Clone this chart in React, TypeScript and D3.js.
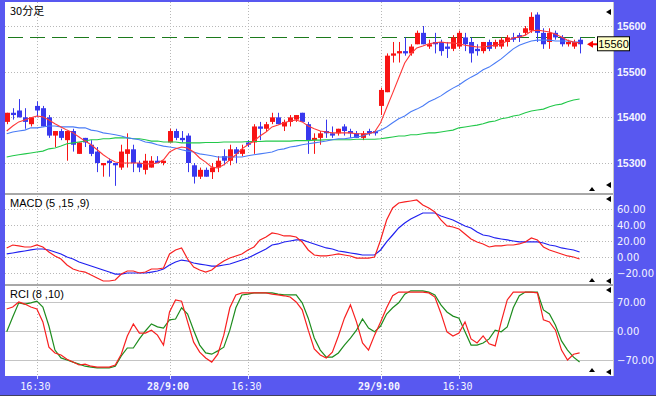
import React, { useEffect, useRef } from "react";
import * as d3 from "d3";

// 30-minute bars, oldest first
const open = [15390, 15410, 15415, 15400, 15385, 15425, 15420, 15400, 15360, 15370,
  15350, 15370, 15320, 15355, 15340, 15325, 15295, 15305, 15300, 15290,
  15320, 15330, 15300, 15285, 15290, 15305, 15300, 15345, 15370, 15355,
  15360, 15295, 15270, 15285, 15280, 15290, 15315, 15305, 15330, 15320,
  15345, 15345, 15380, 15375, 15390, 15400, 15380, 15390, 15395, 15410,
  15385, 15350, 15355, 15370, 15365, 15365, 15380, 15370, 15365, 15355,
  15370, 15370, 15425, 15455, 15535, 15540, 15545, 15540, 15560, 15585,
  15555, 15565, 15565, 15555, 15550, 15555, 15575, 15565, 15550, 15545,
  15565, 15555, 15555, 15565, 15575, 15580, 15585, 15590, 15625, 15585,
  15565, 15585, 15575, 15560, 15555, 15570];
const high = [15410, 15420, 15440, 15420, 15400, 15435, 15425, 15405, 15370, 15375,
  15370, 15375, 15345, 15355, 15350, 15335, 15300, 15310, 15300, 15340,
  15365, 15340, 15305, 15320, 15315, 15315, 15305, 15375, 15375, 15370,
  15365, 15300, 15290, 15290, 15300, 15315, 15330, 15340, 15335, 15340,
  15350, 15385, 15390, 15390, 15410, 15410, 15395, 15405, 15405, 15410,
  15390, 15365, 15370, 15395, 15380, 15375, 15385, 15375, 15370, 15370,
  15375, 15370, 15465, 15540, 15565, 15565, 15575, 15560, 15590, 15600,
  15570, 15585, 15570, 15565, 15580, 15590, 15585, 15575, 15560, 15565,
  15570, 15570, 15575, 15580, 15585, 15585, 15600, 15630, 15630, 15595,
  15595, 15590, 15580, 15570, 15570, 15575];
const low = [15385, 15395, 15400, 15375, 15380, 15400, 15380, 15355, 15335, 15350,
  15305, 15325, 15320, 15335, 15315, 15280, 15270, 15270, 15250, 15285,
  15290, 15280, 15280, 15275, 15290, 15300, 15295, 15345, 15350, 15345,
  15280, 15255, 15265, 15270, 15265, 15280, 15295, 15295, 15300, 15315,
  15335, 15320, 15350, 15370, 15385, 15385, 15370, 15380, 15390, 15390,
  15320, 15320, 15340, 15355, 15355, 15360, 15360, 15355, 15355, 15350,
  15360, 15360, 15405, 15455, 15520, 15520, 15535, 15535, 15560, 15560,
  15550, 15540, 15535, 15530, 15545, 15550, 15545, 15520, 15535, 15540,
  15545, 15550, 15550, 15555, 15565, 15565, 15580, 15585, 15565, 15550,
  15550, 15570, 15555, 15555, 15550, 15540];
const close = [15410, 15405, 15400, 15390, 15400, 15415, 15380, 15360, 15370, 15355,
  15370, 15340, 15345, 15345, 15320, 15300, 15300, 15300, 15295, 15325,
  15330, 15300, 15290, 15305, 15305, 15300, 15305, 15370, 15355, 15350,
  15300, 15270, 15285, 15270, 15290, 15305, 15305, 15330, 15320, 15330,
  15340, 15380, 15375, 15385, 15400, 15385, 15390, 15400, 15405, 15390,
  15350, 15355, 15365, 15365, 15360, 15375, 15370, 15365, 15355, 15365,
  15365, 15365, 15460, 15535, 15540, 15545, 15540, 15555, 15585, 15560,
  15560, 15560, 15545, 15550, 15575, 15585, 15560, 15540, 15545, 15565,
  15550, 15565, 15570, 15575, 15570, 15575, 15595, 15620, 15585, 15560,
  15585, 15575, 15560, 15565, 15565, 15560];

// moving averages (short / mid / long)
const maShort = [15370, 15381, 15390, 15394, 15399, 15403, 15401, 15394, 15386, 15379,
  15372, 15366, 15357, 15348, 15340, 15329, 15318, 15309, 15302, 15300,
  15300, 15300, 15300, 15298, 15298, 15300, 15307, 15324, 15331, 15335,
  15333, 15324, 15311, 15302, 15291, 15289, 15296, 15307, 15318, 15331,
  15340, 15348, 15359, 15368, 15379, 15383, 15388, 15392, 15394, 15390,
  15381, 15375, 15370, 15368, 15366, 15366, 15366, 15366, 15364, 15364,
  15364, 15368, 15388, 15421, 15453, 15486, 15519, 15539, 15552, 15556,
  15561, 15563, 15565, 15563, 15563, 15561, 15558, 15556, 15554, 15554,
  15556, 15558, 15561, 15567, 15574, 15576, 15580, 15589, 15591, 15589,
  15587, 15582, 15576, 15569, 15565, 15563];
const maMid = [15364, 15368, 15370, 15372, 15377, 15377, 15379, 15381, 15381, 15379,
  15379, 15379, 15377, 15377, 15372, 15370, 15366, 15364, 15362, 15359,
  15355, 15353, 15351, 15346, 15344, 15340, 15337, 15335, 15333, 15329,
  15326, 15324, 15320, 15318, 15316, 15313, 15313, 15313, 15313, 15313,
  15316, 15318, 15320, 15322, 15324, 15329, 15331, 15335, 15337, 15340,
  15342, 15344, 15346, 15348, 15351, 15353, 15353, 15355, 15357, 15359,
  15364, 15368, 15372, 15379, 15388, 15397, 15403, 15412, 15418, 15425,
  15434, 15440, 15447, 15456, 15464, 15471, 15480, 15488, 15495, 15504,
  15510, 15519, 15528, 15539, 15550, 15558, 15563, 15567, 15569, 15569,
  15569, 15567, 15567, 15567, 15565, 15565];
const maLong = [15313, 15316, 15318, 15320, 15322, 15324, 15326, 15331, 15333, 15337,
  15342, 15344, 15346, 15348, 15351, 15351, 15353, 15353, 15355, 15355,
  15355, 15353, 15353, 15351, 15348, 15348, 15346, 15346, 15346, 15344,
  15344, 15344, 15344, 15345, 15345, 15345, 15346, 15346, 15346, 15346,
  15347, 15347, 15347, 15348, 15348, 15348, 15348, 15348, 15349, 15349,
  15349, 15350, 15350, 15351, 15351, 15351, 15351, 15351, 15352, 15352,
  15352, 15352, 15353, 15355, 15357, 15359, 15359, 15362, 15362, 15364,
  15366, 15366, 15368, 15370, 15372, 15377, 15379, 15381, 15383, 15386,
  15390, 15392, 15397, 15399, 15403, 15405, 15410, 15414, 15416, 15418,
  15423, 15427, 15429, 15434, 15438, 15440];

// MACD (5,15,9)
const macdLine = [11.3, 15, 13.8, 12.5, 12.5, 15, 12.5, 6.3, 1.3, -2.5,
  -10, -15, -17.5, -18.8, -22.5, -26.3, -30, -30, -28.8, -21.3,
  -17.5, -17.5, -20, -18.8, -15, -15, -13.8, 3.8, 8.8, 11.3,
  -2.5, -12.5, -16.3, -18.8, -16.3, -10, -5, -1.3, 1.3, 3.8,
  8.8, 12.5, 21.3, 25, 30, 28.8, 26.3, 26.3, 25, 18.8,
  8.8, 2.5, 1.3, 1.3, 2.5, 3.8, 2.5, 1.3, -1.3, -1.3,
  -1.3, 0, 21.3, 46.3, 61.3, 67.5, 68.8, 70, 71.3, 65,
  61.3, 56.3, 46.3, 38.8, 37.5, 35, 28.8, 22.5, 18.8, 16.3,
  12.5, 13.8, 13.8, 15, 15, 16.3, 18.8, 23.8, 21.3, 12.5,
  8.8, 6.3, 3.8, 1.3, 0, -2.5];
const macdSignal = [3.8, 5, 6.3, 7.5, 8.8, 10, 10, 8.8, 6.3, 3.8,
  0, -2.5, -6.3, -8.8, -11.3, -13.8, -16.3, -18.8, -21.3, -21.3,
  -20, -20, -20, -20, -18.8, -17.5, -15, -10, -6.3, -3.8,
  -5, -7.5, -8.8, -10, -11.3, -11.3, -10, -8.8, -6.3, -3.8,
  -1.3, 2.5, 6.3, 10, 15, 16.3, 18.8, 20, 21.3, 21.3,
  18.8, 16.3, 13.8, 11.3, 10, 7.5, 6.3, 5, 3.8, 2.5,
  2.5, 2.5, 8.8, 18.8, 27.5, 36.3, 42.5, 47.5, 51.3, 55,
  55, 55, 51.3, 48.8, 46.3, 42.5, 38.8, 36.3, 31.3, 27.5,
  26.3, 23.8, 22.5, 21.3, 20, 18.8, 18.8, 18.8, 18.8, 17.5,
  15, 13.8, 11.3, 10, 8.8, 6.3];

// RCI (8,10)
const rciShort = [53, 58, 70, 65, 58, 53, 22, -39, -53, -58,
  -68, -75, -82, -80, -85, -87, -87, -87, -82, -56,
  -12, 17, -5, -5, 2, -10, -34, 46, 75, 72,
  22, -27, -51, -65, -75, -56, -10, 56, 87, 92,
  92, 92, 92, 92, 89, 87, 85, 82, 70, 51,
  2, -43, -58, -65, -51, -12, 31, 63, 22, -29,
  -46, -10, 22, 56, 85, 94, 94, 94, 94, 94,
  92, 82, 43, -2, -12, -5, 22, -19, -29, -12,
  -31, -36, 22, 75, 94, 94, 94, 94, 92, 27,
  22, 2, -46, -70, -56, -53];
const rciLong = [-2, 34, 68, 65, 68, 72, 58, 12, -46, -65,
  -70, -75, -80, -85, -87, -89, -89, -89, -85, -60,
  -41, -41, -19, 0, 17, 10, 7, 27, 29, 56,
  41, 2, -34, -53, -56, -48, -39, 2, 56, 87,
  89, 92, 92, 92, 92, 89, 87, 87, 87, 68,
  31, -17, -46, -63, -63, -53, -34, -17, 2, 29,
  7, -2, 12, 41, 56, 68, 89, 97, 97, 97,
  94, 87, 63, 46, 36, 31, -2, -34, -34, -29,
  -19, 2, -2, 10, 56, 85, 94, 94, 94, 51,
  41, 14, -24, -46, -63, -75];

const timeTicks = [5, 27, 40, 62, 75];
const timeLabels = ["16:30", "28/9:00", "16:30", "29/9:00", "16:30"];
const priceTicks = [15300, 15400, 15500, 15600];
const macdTicks = [-20, 0, 20, 40, 60];
const rciTicks = [-70, 0, 70];
const refPrice = 15575;
const lastPrice = 15560;

const FRAME = "#5858f0";

export default function App() {
  const ref = useRef<SVGSVGElement>(null);

  useEffect(() => {
    const svg = d3.select(ref.current);
    svg.selectAll("*").remove();

    const left = 5, right = 614;
    const mainTop = 2, mainBot = 193;
    const macdTop = 196, macdBot = 284;
    const rciTop = 287, rciBot = 376;

    const x = d3.scaleLinear().domain([0, close.length - 1]).range([6.7, 579.6]);
    const yMain = d3.scaleLinear().domain([15300, 15600]).range([163, 26]);
    const yMacd = d3.scaleLinear().domain([-20, 60]).range([273, 209]);
    const yRci = d3.scaleLinear().domain([-70, 70]).range([360, 302]);

    // frame + panels
    svg.append("rect").attr("width", 656).attr("height", 396).attr("fill", FRAME);
    svg.append("rect").attr("x", left).attr("y", mainTop).attr("width", right - left).attr("height", rciBot - mainTop).attr("fill", "#fff");
    svg.append("rect").attr("x", left).attr("y", mainBot).attr("width", right - left).attr("height", 2).attr("fill", "#a8a8a8");
    svg.append("rect").attr("x", left).attr("y", macdBot).attr("width", right - left).attr("height", 2).attr("fill", "#a8a8a8");
    svg.append("line").attr("x1", right - 0.5).attr("x2", right - 0.5).attr("y1", mainTop).attr("y2", rciBot).attr("stroke", "#c8c8c8");
    svg.append("line").attr("x1", 0).attr("x2", 656).attr("y1", 395.5).attr("y2", 395.5).attr("stroke", "#404060");

    const defs = svg.append("defs");
    const clip = (id: string, y0: number, y1: number) => {
      defs.append("clipPath").attr("id", id).append("rect")
        .attr("x", left).attr("y", y0).attr("width", right - left).attr("height", y1 - y0);
      return svg.append("g").attr("clip-path", `url(#${id})`);
    };

    // vertical time grid through all panels
    timeTicks.forEach(t => {
      const xx = Math.round(x(t)) + 0.5;
      [[mainTop, mainBot], [macdTop, macdBot], [rciTop, rciBot]].forEach(([a, b]) => {
        svg.append("line").attr("x1", xx).attr("x2", xx).attr("y1", a).attr("y2", b)
          .attr("stroke", "#b8b8b8").attr("stroke-dasharray", "1,2");
      });
      svg.append("line").attr("x1", xx).attr("x2", xx).attr("y1", rciBot).attr("y2", rciBot + 3).attr("stroke", "#e0e0ff");
    });

    // ---- main panel
    const gMain = clip("clipMain", mainTop, mainBot);
    priceTicks.forEach(p => {
      gMain.append("line").attr("x1", left).attr("x2", right)
        .attr("y1", Math.round(yMain(p)) + 0.5).attr("y2", Math.round(yMain(p)) + 0.5)
        .attr("stroke", "#b8b8b8").attr("stroke-dasharray", "1,2");
    });
    // reference price line
    gMain.append("line").attr("x1", left + 3).attr("x2", right)
      .attr("y1", Math.round(yMain(refPrice)) + 0.5).attr("y2", Math.round(yMain(refPrice)) + 0.5)
      .attr("stroke", "#1c7a1c").attr("stroke-dasharray", "15,7");

    // candles
    close.forEach((c, i) => {
      const o = open[i];
      const up = c >= o;
      const col = up ? "#f81414" : "#3838ee";
      const cx = Math.round(x(i));
      gMain.append("line").attr("x1", cx + 0.5).attr("x2", cx + 0.5)
        .attr("y1", yMain(high[i])).attr("y2", yMain(low[i])).attr("stroke", col);
      const top = yMain(Math.max(o, c));
      const h = Math.max(1.5, yMain(Math.min(o, c)) - top);
      gMain.append("rect").attr("x", cx - 2).attr("y", top).attr("width", 5).attr("height", h).attr("fill", col);
    });

    const lineOf = (ys: d3.ScaleLinear<number, number>) =>
      d3.line<number>().x((d, i) => x(i)).y(d => ys(d));

    gMain.append("path").attr("d", lineOf(yMain)(maLong)).attr("fill", "none").attr("stroke", "#22c84a").attr("stroke-width", 1.1);
    gMain.append("path").attr("d", lineOf(yMain)(maMid)).attr("fill", "none").attr("stroke", "#4a7cf6").attr("stroke-width", 1.1);
    gMain.append("path").attr("d", lineOf(yMain)(maShort)).attr("fill", "none").attr("stroke", "#ff3838").attr("stroke-width", 1.1);

    // last price marker
    const ly = yMain(lastPrice);
    svg.append("line").attr("x1", 592).attr("x2", 598).attr("y1", ly).attr("y2", ly).attr("stroke", "#f00").attr("stroke-width", 2);
    svg.append("path").attr("d", `M587,${ly} L593,${ly - 3.5} L593,${ly + 3.5} Z`).attr("fill", "#f00");
    svg.append("rect").attr("x", 597.5).attr("y", ly - 7.5).attr("width", 32).attr("height", 14)
      .attr("fill", "#ffffc8").attr("stroke", "#000");
    svg.append("text").attr("x", 613.5).attr("y", ly + 4).attr("text-anchor", "middle")
      .attr("font-family", "Liberation Sans, Arial, sans-serif").attr("font-size", 11).attr("fill", "#000")
      .text(d3.format("d")(lastPrice));

    // ---- MACD panel
    const gMacd = clip("clipMacd", macdTop, macdBot);
    macdTicks.forEach(v => {
      gMacd.append("line").attr("x1", left).attr("x2", right)
        .attr("y1", Math.round(yMacd(v)) + 0.5).attr("y2", Math.round(yMacd(v)) + 0.5)
        .attr("stroke", "#b8b8b8").attr("stroke-dasharray", "1,2");
    });
    gMacd.append("path").attr("d", lineOf(yMacd)(macdSignal)).attr("fill", "none").attr("stroke", "#2020f0").attr("stroke-width", 1.2);
    gMacd.append("path").attr("d", lineOf(yMacd)(macdLine)).attr("fill", "none").attr("stroke", "#f82020").attr("stroke-width", 1.2);

    // ---- RCI panel
    const gRci = clip("clipRci", rciTop, rciBot);
    rciTicks.forEach(v => {
      gRci.append("line").attr("x1", left).attr("x2", right)
        .attr("y1", Math.round(yRci(v)) + 0.5).attr("y2", Math.round(yRci(v)) + 0.5)
        .attr("stroke", "#c4c4c4");
    });
    gRci.append("path").attr("d", lineOf(yRci)(rciLong)).attr("fill", "none").attr("stroke", "#1e8c1e").attr("stroke-width", 1.2);
    gRci.append("path").attr("d", lineOf(yRci)(rciShort)).attr("fill", "none").attr("stroke", "#f82020").attr("stroke-width", 1.2);

    // panel titles
    const title = (t: string, yy: number, fam: string) =>
      svg.append("text").attr("x", 10).attr("y", yy).attr("font-family", fam).attr("font-size", 11).attr("fill", "#000").text(t);
    title("30分足", 15, "Noto Sans CJK JP, sans-serif");
    title("MACD (5 ,15 ,9)", 207, "Liberation Sans, Arial, sans-serif");
    title("RCI (8 ,10)", 298, "Liberation Sans, Arial, sans-serif");

    // small scroll markers
    const leftTri = (yy: number) =>
      svg.append("path").attr("d", `M606,${yy} L611,${yy - 3} L611,${yy + 3} Z`).attr("fill", "#000");
    const upTri = (yy: number) =>
      svg.append("path").attr("d", `M589,${yy + 2} L595,${yy + 2} L592,${yy - 2} Z`).attr("fill", "#000");
    [12, 199, 290].forEach(leftTri);
    [185, 281, 372].forEach(leftTri);
    [189, 280, 370].forEach(upTri);

    // right axis labels
    priceTicks.forEach(p => {
      svg.append("text").attr("x", 617).attr("y", yMain(p) + 4)
        .attr("font-family", "Liberation Sans, Arial, sans-serif").attr("font-weight", "bold")
        .attr("font-size", 10.5).attr("fill", "#f4f4ff").text(d3.format("d")(p));
    });
    const fmt = d3.format(".2f");
    macdTicks.forEach(v => {
      svg.append("text").attr("x", 617).attr("y", yMacd(v) + 4)
        .attr("font-family", "DejaVu Sans, sans-serif").attr("font-size", 10)
        .attr("fill", "#f4f4ff").text(fmt(v));
    });
    rciTicks.forEach(v => {
      svg.append("text").attr("x", 617).attr("y", yRci(v) + 4)
        .attr("font-family", "DejaVu Sans, sans-serif").attr("font-size", 10)
        .attr("fill", "#f4f4ff").text(fmt(v));
    });

    // time axis labels
    timeTicks.forEach((t, i) => {
      const lbl = timeLabels[i];
      svg.append("text").attr("x", x(t) - 1.5).attr("y", 390).attr("text-anchor", "middle")
        .attr("font-family", "DejaVu Sans Mono, monospace").attr("font-size", 10)
        .attr("font-weight", lbl.includes("/") ? "bold" : "normal")
        .attr("fill", "#f4f4ff").text(lbl);
    });
  }, []);

  return (
    <svg ref={ref} width={656} height={396} style={{ position: "absolute", left: 0, top: 0, display: "block" }} />
  );
}
